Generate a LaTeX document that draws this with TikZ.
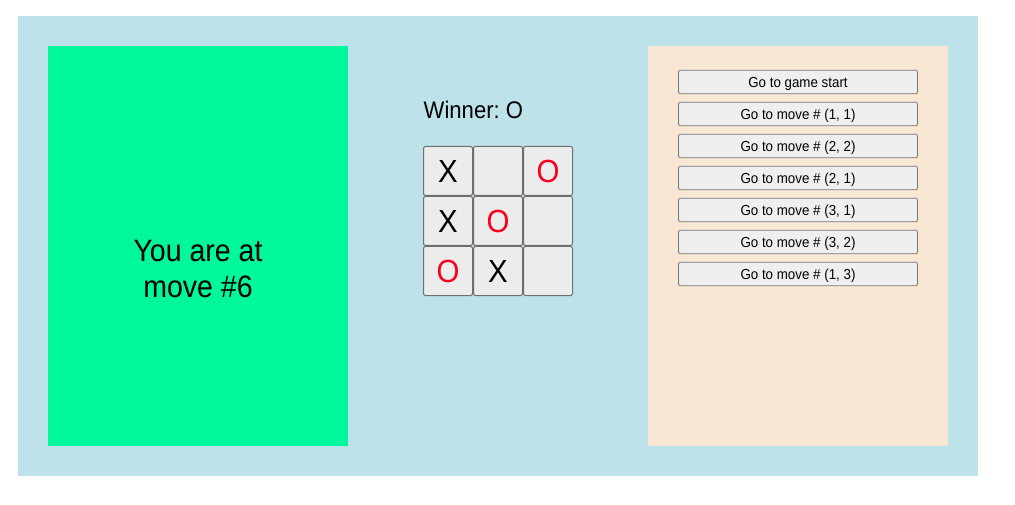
\documentclass[tikz,border=0pt]{standalone}
\usepackage{fontspec}
\setmainfont{Liberation Sans}[FakeStretch=0.92]
\frenchspacing
\definecolor{bgblue}{RGB}{190,226,234}
\definecolor{panelgreen}{RGB}{0,247,155}
\definecolor{panelbeige}{RGB}{249,231,213}
\definecolor{cellfill}{RGB}{236,236,236}
\definecolor{cellborder}{RGB}{110,110,110}
\definecolor{btnfill}{RGB}{239,239,239}
\definecolor{btnborder}{RGB}{118,118,118}
\definecolor{ored}{RGB}{250,0,30}
\begin{document}
\begin{tikzpicture}[x=1pt,y=-1pt,
  cellbox/.style={draw=cellborder,line width=1pt,fill=cellfill,rounded corners=2pt,minimum width=49pt,minimum height=49pt,inner sep=0pt,font=\fontsize{32}{32}\selectfont,text height=22.8pt,text depth=0pt},
  xmark/.style={text=black},
  omark/.style={text=ored},
  btn/.style={draw=btnborder,line width=0.8pt,fill=btnfill,rounded corners=2pt,minimum width=239pt,minimum height=23.5pt,inner sep=0pt,font=\fontsize{14.5}{17}\selectfont,text height=12pt,text depth=1.4pt},
]
\useasboundingbox (0,0) rectangle (1015,505);
\fill[white] (0,0) rectangle (1015,505);
\node[fill=bgblue,minimum width=960pt,minimum height=460pt,inner sep=0pt,anchor=north west] (bg) at (18,16) {};
\node[fill=panelgreen,minimum width=300pt,minimum height=400pt,inner sep=0pt,anchor=north west] (left) at (48,46) {};
\node[fill=panelbeige,minimum width=300pt,minimum height=400pt,inner sep=0pt,anchor=north west] (right) at (648,46) {};
\node[anchor=base,align=center,font=\fontsize{31}{36.7}\selectfont,inner sep=0pt] (status) at (198,297.7) {You are at\\move \#6};
\node[anchor=base west,inner sep=0pt,font=\fontsize{24}{28}\selectfont] (winner) at (423.5,119) {Winner: O};
% board
\node[cellbox,xmark] (c11) at (448,171) {X};
\node[cellbox] (c12) at (498,171) {};
\node[cellbox,omark] (c13) at (548,171) {O};
\node[cellbox,xmark] (c21) at (448,221) {X};
\node[cellbox,omark] (c22) at (498,221) {O};
\node[cellbox] (c23) at (548,221) {};
\node[cellbox,omark] (c31) at (448,271) {O};
\node[cellbox,xmark] (c32) at (498,271) {X};
\node[cellbox] (c33) at (548,271) {};
% buttons
\node[btn] (b0) at (798,82) {Go to game start};
\node[btn] (b1) at (798,114) {Go to move \# (1, 1)};
\node[btn] (b2) at (798,146) {Go to move \# (2, 2)};
\node[btn] (b3) at (798,178) {Go to move \# (2, 1)};
\node[btn] (b4) at (798,210) {Go to move \# (3, 1)};
\node[btn] (b5) at (798,242) {Go to move \# (3, 2)};
\node[btn] (b6) at (798,274) {Go to move \# (1, 3)};
\end{tikzpicture}
\end{document}
